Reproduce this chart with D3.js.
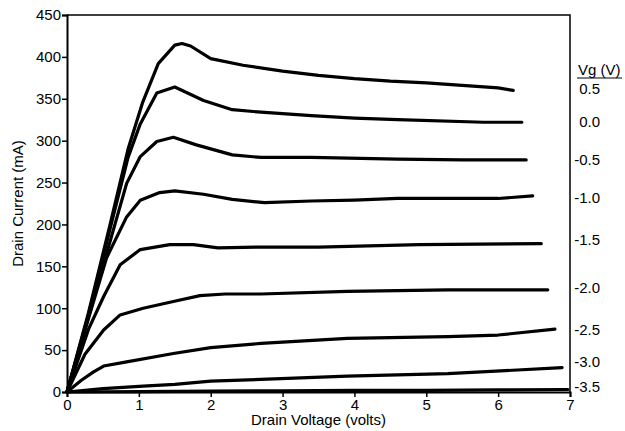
<!DOCTYPE html>
<html><head><meta charset="utf-8">
<script src="https://cdn.jsdelivr.net/npm/d3@7"></script>
<style>
body{margin:0;background:#fff;}
svg text{font-family:"Liberation Sans",Arial,Helvetica,sans-serif;fill:#000;}
</style></head>
<body><svg id="c" width="625" height="431"></svg>
<script>
// Drain current (mA) vs drain voltage (V), one series per gate voltage
const vgLabels = ["0.5","0.0","-0.5","-1.0","-1.5","-2.0","-2.5","-3.0","-3.5"];
const vg05  = [[0,0],[0.3,95],[0.6,200],[0.85,290],[1.05,345],[1.27,392],[1.5,414],[1.6,416],[1.72,413],[2.0,398],[2.45,390],[3.0,383],[3.5,378],[4.0,374],[4.5,371],[5.0,369],[5.5,366],[6.0,363],[6.21,360]];
const vg00  = [[0,0],[0.3,92],[0.6,195],[0.85,280],[1.02,320],[1.25,357],[1.5,364],[1.9,348],[2.3,337],[2.7,334],[3.4,330],[4.0,327],[4.6,325],[5.8,322],[6.33,322]];
const vgm05 = [[0,0],[0.3,90],[0.6,180],[0.83,249],[1.02,281],[1.25,299],[1.48,304],[1.8,295],[2.3,283],[2.7,280],[3.4,280],[4.6,278],[5.5,277],[6.39,277]];
const vgm10 = [[0,0],[0.3,88],[0.55,160],[0.83,209],[1.02,229],[1.29,238],[1.5,240],[1.9,236],[2.3,230],[2.75,226],[3.4,228],[4.0,229],[4.6,231],[6.0,231],[6.48,234]];
const vgm15 = [[0,0],[0.3,75],[0.51,114],[0.74,152],[1.02,170],[1.43,176],[1.76,176],[2.1,172],[2.7,173],[3.5,173],[4.9,176],[6.6,177]];
const vgm20 = [[0,0],[0.25,45],[0.51,74],[0.74,92],[1.06,100],[1.48,108],[1.85,115],[2.2,117],[2.7,117],[3.9,120],[5.3,122],[6.69,122]];
const vgm25 = [[0,0],[0.2,14],[0.37,24],[0.51,31],[0.83,36],[1.48,46],[2.0,53],[2.7,58],[3.9,64],[5.3,66],[6.0,68],[6.79,75]];
const vgm30 = [[0,0],[0.5,4],[1.06,7],[1.5,9],[2.0,13],[2.7,15],[3.9,19],[5.3,22],[6.89,29]];
const vgm35 = [[0,0],[1,0.5],[2,1],[3,1.5],[4,2],[5,2],[6,2.5],[6.97,3]];
const labelAt = [362, 322, 277, 232, 182, 124, 74, 36, 6]; // mA level of each Vg label
const xTicks = [0,1,2,3,4,5,6,7];
const yTicks = [0,50,100,150,200,250,300,350,400,450];

const series = [vg05, vg00, vgm05, vgm10, vgm15, vgm20, vgm25, vgm30, vgm35];
const svg = d3.select("#c");
const x = d3.scaleLinear().domain([0,7]).range([67,570]);
const y = d3.scaleLinear().domain([0,450]).range([392,15]);

// frame
svg.append("path")
  .attr("d", `M${x(0)},${y(450)}H${x(7)}V${y(0)}`)
  .attr("fill","none").attr("stroke","#000").attr("stroke-width",1.5);

const xa = svg.append("g").attr("transform",`translate(0,${y(0)})`)
  .call(d3.axisBottom(x).tickValues(xTicks).tickFormat(d3.format("d")).tickSize(5).tickPadding(2));
const ya = svg.append("g").attr("transform",`translate(${x(0)},0)`)
  .call(d3.axisLeft(y).tickValues(yTicks).tickSize(5).tickPadding(1));
[xa,ya].forEach(g=>{
  g.select(".domain").attr("stroke","#000").attr("stroke-width",2);
  g.selectAll(".tick line").attr("stroke","#000").attr("stroke-width",1.5);
  g.selectAll("text").attr("font-size",15).attr("font-family",null).attr("fill","#000");
});

const line = d3.line().x(d=>x(d[0])).y(d=>y(d[1])).curve(d3.curveLinear);
svg.append("g").selectAll("path").data(series).join("path")
  .attr("d", line).attr("fill","none").attr("stroke","#000")
  .attr("stroke-width",3.2).attr("stroke-linejoin","round").attr("stroke-linecap","round");

// Vg labels
svg.append("g").selectAll("text").data(vgLabels).join("text")
  .attr("x", 600).attr("y",(d,i)=>y(labelAt[i])).attr("dy","0.35em")
  .attr("text-anchor","end").attr("font-size",15).text(d=>d);
svg.append("text").attr("x",578).attr("y",75).attr("font-size",15).text("Vg (V)");
svg.append("line").attr("x1",577).attr("x2",622).attr("y1",78).attr("y2",78)
  .attr("stroke","#000").attr("stroke-width",1.2);

svg.append("text").attr("x",(x(0)+x(7))/2).attr("y",425).attr("text-anchor","middle")
  .attr("font-size",15).text("Drain Voltage (volts)");
svg.append("text").attr("transform",`translate(23,${(y(0)+y(450))/2}) rotate(-90)`)
  .attr("text-anchor","middle").attr("font-size",15).text("Drain Current (mA)");
</script></body></html>
